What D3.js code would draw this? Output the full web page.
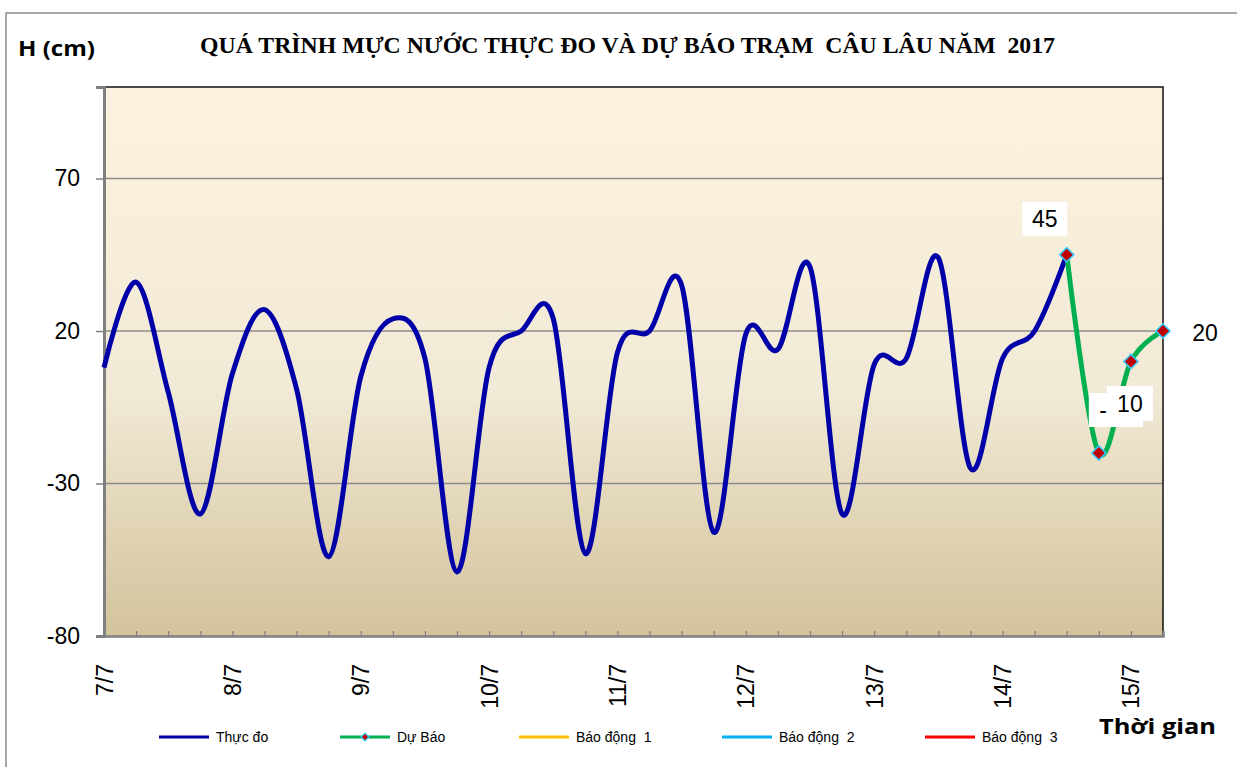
<!DOCTYPE html>
<meta charset="utf-8">
<style>
body { margin: 0; background: #fff; }
text { font-family: "Liberation Sans", Arial, sans-serif; fill: #000; }
.grid line { stroke: #8c8c8c; stroke-width: 1.5; }
</style>
<svg width="1237" height="767"></svg>
<script src="https://cdn.jsdelivr.net/npm/d3@7/dist/d3.min.js"></script>
<script>

// 6-hourly points, day label every 4th point
var labels = ["7/7","","","","8/7","","","","9/7","","","","10/7","","","",
              "11/7","","","","12/7","","","","13/7","","","","14/7","","","",
              "15/7",""];
// H (cm) measured
var thucDo = [8, 36, 0, -40, 6, 27, 1, -54, 5, 24, 11, -59, 8, 20, 24, -53,
              13, 20, 35, -46, 19, 14, 41, -40, 9, 11, 44, -25, 11, 20, 45];
// forecast, starts at the last measured point
var duBao = [45, -20, 10, 20];
var duBaoStart = 30;
var yTicks = [-80, -30, 20, 70];
var legendNames = ["Thực đo", "Dự Báo", "Báo động  1", "Báo động  2", "Báo động  3"];
var legendColors = ["#0000a8", "#00b050", "#ffc000", "#00b0f0", "#ff0000"];

var svg = d3.select("svg");
var pLeft = 104, pRight = 1163, pTop = 87, pBottom = 636;

var x = d3.scaleLinear().domain([0, labels.length - 1]).range([pLeft, pRight]);
var y = d3.scaleLinear().domain([-80, 100]).range([pBottom, pTop]);

// outer frame
svg.append("rect")
    .attr("x", 6).attr("y", 13).attr("width", 1240).attr("height", 770)
    .attr("fill", "none").attr("stroke", "#8a8a8a").attr("stroke-width", 1.5);

var defs = svg.append("defs");
var grad = defs.append("linearGradient").attr("id", "bg")
    .attr("x1", 0).attr("y1", 0).attr("x2", 0).attr("y2", 1);
grad.append("stop").attr("offset", "0%").attr("stop-color", "#fdf2df");
grad.append("stop").attr("offset", "55%").attr("stop-color", "#f1ead6");
grad.append("stop").attr("offset", "100%").attr("stop-color", "#d3c39c");

svg.append("rect")
    .attr("x", pLeft).attr("y", pTop)
    .attr("width", pRight - pLeft).attr("height", pBottom - pTop)
    .attr("fill", "url(#bg)");

// gridlines
svg.append("g").attr("class", "grid")
  .selectAll("line")
  .data(yTicks.slice(1))
  .enter().append("line")
    .attr("x1", pLeft).attr("x2", pRight)
    .attr("y1", function(d) { return y(d); })
    .attr("y2", function(d) { return y(d); });

// top / right border
svg.append("path")
    .attr("d", "M" + pLeft + "," + pTop + "H" + pRight + "V" + pBottom)
    .attr("fill", "none").attr("stroke", "#111").attr("stroke-width", 1.5);

// y axis
var yAxis = svg.append("g")
    .attr("transform", "translate(" + pLeft + ",0)")
    .call(d3.axisLeft(y).tickValues(yTicks).tickSize(8).tickPadding(16)
      .tickFormat(function(d) { return String(d); }));
yAxis.select(".domain").attr("stroke", "#808080").attr("stroke-width", 3);
yAxis.selectAll(".tick line").attr("stroke", "#808080").attr("stroke-width", 1.5);
yAxis.selectAll(".tick text")
    .attr("font-family", "Liberation Sans, Arial, sans-serif")
    .attr("font-size", 23);

// x axis
var xAxis = svg.append("g")
    .attr("transform", "translate(0," + pBottom + ")")
    .call(d3.axisBottom(x)
      .tickValues(d3.range(labels.length))
      .tickSize(-5)
      .tickFormat(function(i) { return labels[i]; }));
xAxis.select(".domain").attr("stroke", "#808080").attr("stroke-width", 2.5);
xAxis.selectAll(".tick line").attr("stroke", "#808080").attr("stroke-width", 1.2);
xAxis.selectAll(".tick text")
    .attr("font-family", "Liberation Sans, Arial, sans-serif")
    .attr("font-size", 23)
    .attr("text-anchor", "end")
    .attr("transform", "rotate(-90)")
    .attr("x", -28).attr("y", 0).attr("dy", "0.35em");

var line = d3.line()
    .x(function(d) { return x(d.i); })
    .y(function(d) { return y(d.v); })
    .curve(d3.curveCardinal.tension(0));

var measured = thucDo.map(function(v, i) { return {i: i, v: v}; });
var forecast = duBao.map(function(v, k) { return {i: duBaoStart + k, v: v}; });

svg.append("path")
    .datum(measured)
    .attr("d", line)
    .attr("fill", "none")
    .attr("stroke", legendColors[0])
    .attr("stroke-width", 5)
    .attr("stroke-linejoin", "round");

svg.append("path")
    .datum(forecast)
    .attr("d", line)
    .attr("fill", "none")
    .attr("stroke", legendColors[1])
    .attr("stroke-width", 5)
    .attr("stroke-linejoin", "round");

var diamond = d3.symbol().type(d3.symbolSquare).size(100);
svg.append("g").selectAll("path")
    .data(forecast)
    .enter().append("path")
    .attr("d", diamond)
    .attr("transform", function(d) { return "translate(" + x(d.i) + "," + y(d.v) + ") rotate(45)"; })
    .attr("fill", "#c00000")
    .attr("stroke", "#33ccff")
    .attr("stroke-width", 1.5);

// data labels on forecast points (offsets in px, boxed ones drawn with white bg)
var labelOffsets = [[-22, -36, 45, 34], [17, -43, 54, 34], [-1, 42, 46, 35], [42, 2, 0, 0]];
forecast.forEach(function(d, k) {
  var o = labelOffsets[k];
  var cx = x(d.i) + o[0], cy = y(d.v) + o[1];
  var g = svg.append("g");
  if (o[2] > 0) {
    g.append("rect")
        .attr("x", cx - o[2] / 2).attr("y", cy - o[3] / 2)
        .attr("width", o[2]).attr("height", o[3])
        .attr("fill", "#fff");
  }
  g.append("text")
      .attr("x", cx).attr("y", cy)
      .attr("dy", "0.36em")
      .attr("text-anchor", "middle")
      .attr("font-size", 23)
      .text(d.v);
});

// titles
svg.append("text")
    .attr("x", 200).attr("y", 53)
    .attr("textLength", 855)
    .attr("lengthAdjust", "spacingAndGlyphs")
    .style("font-family", "Liberation Serif, Times New Roman, serif")
    .attr("font-weight", "bold")
    .attr("font-size", 24)
    .attr("xml:space", "preserve")
    .text("QUÁ TRÌNH MỰC NƯỚC THỰC ĐO VÀ DỰ BÁO TRẠM  CÂU LÂU NĂM  2017");

svg.append("text")
    .attr("x", 18).attr("y", 56)
    .attr("textLength", 77)
    .attr("lengthAdjust", "spacingAndGlyphs")
    .attr("font-weight", "bold")
    .attr("font-size", 22)
    .style("font-family", "Open Sans, Liberation Sans, sans-serif")
    .text("H (cm)");

svg.append("text")
    .attr("x", 1099).attr("y", 734)
    .attr("textLength", 117)
    .attr("lengthAdjust", "spacingAndGlyphs")
    .attr("font-weight", "bold")
    .attr("font-size", 22)
    .style("font-family", "Open Sans, Liberation Sans, sans-serif")
    .text("Thời gian");

// legend
var legendX = [159, 340, 519, 722, 925];
var leg = svg.append("g").selectAll("g")
    .data(legendNames)
    .enter().append("g")
    .attr("transform", function(d, i) { return "translate(" + legendX[i] + ",737)"; });
leg.append("line")
    .attr("x1", 0).attr("x2", 50)
    .attr("stroke", function(d, i) { return legendColors[i]; })
    .attr("stroke-width", 3);
leg.filter(function(d, i) { return i === 1; })
  .append("path")
    .attr("d", d3.symbol().type(d3.symbolSquare).size(30))
    .attr("transform", "translate(25,0) rotate(45)")
    .attr("fill", "#c00000")
    .attr("stroke", "#33ccff")
    .attr("stroke-width", 1.2);
leg.append("text")
    .attr("x", 57).attr("dy", "0.35em")
    .attr("font-size", 14)
    .style("white-space", "pre")
    .text(function(d) { return d; });

</script>
